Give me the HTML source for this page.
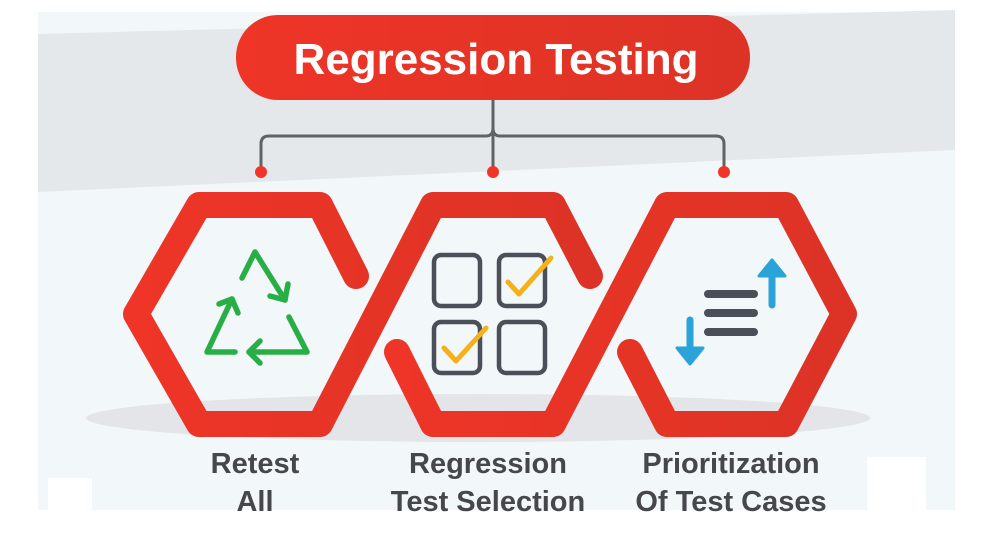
<!DOCTYPE html>
<html><head><meta charset="utf-8"><style>
html,body{margin:0;padding:0;background:#fff;}
body{width:990px;height:541px;overflow:hidden;position:relative;font-family:"Liberation Sans",sans-serif;}
</style></head><body>
<svg width="990" height="541" viewBox="0 0 990 541" xmlns="http://www.w3.org/2000/svg" style="position:absolute;left:0;top:0">
<defs>
<linearGradient id="rg" x1="0" y1="0" x2="1" y2="0">
<stop offset="0" stop-color="#ee3527"/><stop offset="1" stop-color="#dc3326"/>
</linearGradient>
</defs>
<rect x="38" y="12" width="917" height="498" fill="#f2f7fa"/>
<polygon points="38,34 955,10 955,150 38,192" fill="#e5e8eb"/>
<rect x="48" y="478" width="44" height="34" fill="#fff"/>
<rect x="867" y="457" width="59" height="55" fill="#fff"/>
<ellipse cx="478" cy="418" rx="392" ry="24" fill="#e3e5e8"/>
<!-- header -->
<rect x="236" y="15" width="514" height="85" rx="42" fill="url(#rg)"/>
<text x="496" y="74" text-anchor="middle" font-family="Liberation Sans, sans-serif" font-weight="bold" font-size="44" fill="#fff">Regression Testing</text>
<!-- connectors -->
<g fill="none" stroke="#5f6368" stroke-width="3">
<path d="M493,100 V136"/>
<path d="M261,170 V144 Q261,136 269,136 H486 Q493,136 493,128 Q493,136 500,136 H716 Q724,136 724,144 V170"/>
<path d="M493,136 V170"/>
</g>
<circle cx="261" cy="172" r="6" fill="#ee3527"/>
<circle cx="493" cy="172" r="6" fill="#ee3527"/>
<circle cx="724" cy="172" r="6" fill="#ee3527"/>
<!-- chain of hexes -->
<g fill="none" stroke="url(#rg)" stroke-width="26" stroke-linecap="round" stroke-linejoin="round">
<path d="M356,276 L320,205 L199,205 L136,314 L199,424 L320,424 L433,205 L553,205 L590,276"/>
<path d="M397,352 L433,424 L553,424 L667,205 L786,205 L844,314 L786,424 L667,424 L630,352"/>
</g>
<!-- recycle -->
<g fill="none" stroke="#27ae45" stroke-width="5.5" stroke-linecap="round" stroke-linejoin="round">
<path d="M242,278 L255,252 L285,300"/>
<path d="M270,296 L285,300 L288,284"/>
<path d="M235,352 L207,352 L232,299"/>
<path d="M219,304 L232,299 L238,313"/>
<path d="M289,317 L307,352 L249,352"/>
<path d="M260,341 L249,352 L260,363"/>
</g>
<!-- checkboxes -->
<g fill="none" stroke="#4b4f58" stroke-width="4.5">
<rect x="434" y="255" width="46" height="51" rx="7"/>
<rect x="499" y="255" width="46" height="51" rx="7"/>
<rect x="434" y="322" width="46" height="51" rx="7"/>
<rect x="499" y="322" width="46" height="51" rx="7"/>
</g>
<g fill="none" stroke="#f5b01a" stroke-width="5" stroke-linecap="round" stroke-linejoin="round">
<path d="M508,282 L519,294 L551,258"/>
<path d="M444,348 L456,361 L486,328"/>
</g>
<!-- prioritization -->
<g stroke="#4b4f58" stroke-width="8" stroke-linecap="round">
<line x1="708" y1="294" x2="754" y2="294"/>
<line x1="708" y1="313" x2="754" y2="313"/>
<line x1="708" y1="332" x2="754" y2="332"/>
</g>
<g stroke="#2aa3d8" stroke-width="7" stroke-linecap="round" fill="#2aa3d8">
<line x1="772" y1="275" x2="772" y2="305"/>
<line x1="690" y1="320" x2="690" y2="348"/>
</g>
<polygon points="772,260 785,276 759,276" fill="#2aa3d8" stroke="#2aa3d8" stroke-width="3" stroke-linejoin="round"/>
<polygon points="690,364 703,348 677,348" fill="#2aa3d8" stroke="#2aa3d8" stroke-width="3" stroke-linejoin="round"/>
<!-- labels -->
<g font-family="Liberation Sans, sans-serif" font-weight="bold" font-size="29" fill="#45474c" text-anchor="middle">
<text x="255" y="473">Retest</text>
<text x="255" y="511">All</text>
<text x="488" y="473">Regression</text>
<text x="488" y="511">Test Selection</text>
<text x="731" y="473">Prioritization</text>
<text x="731" y="511">Of Test Cases</text>
</g>
</svg>
</body></html>
